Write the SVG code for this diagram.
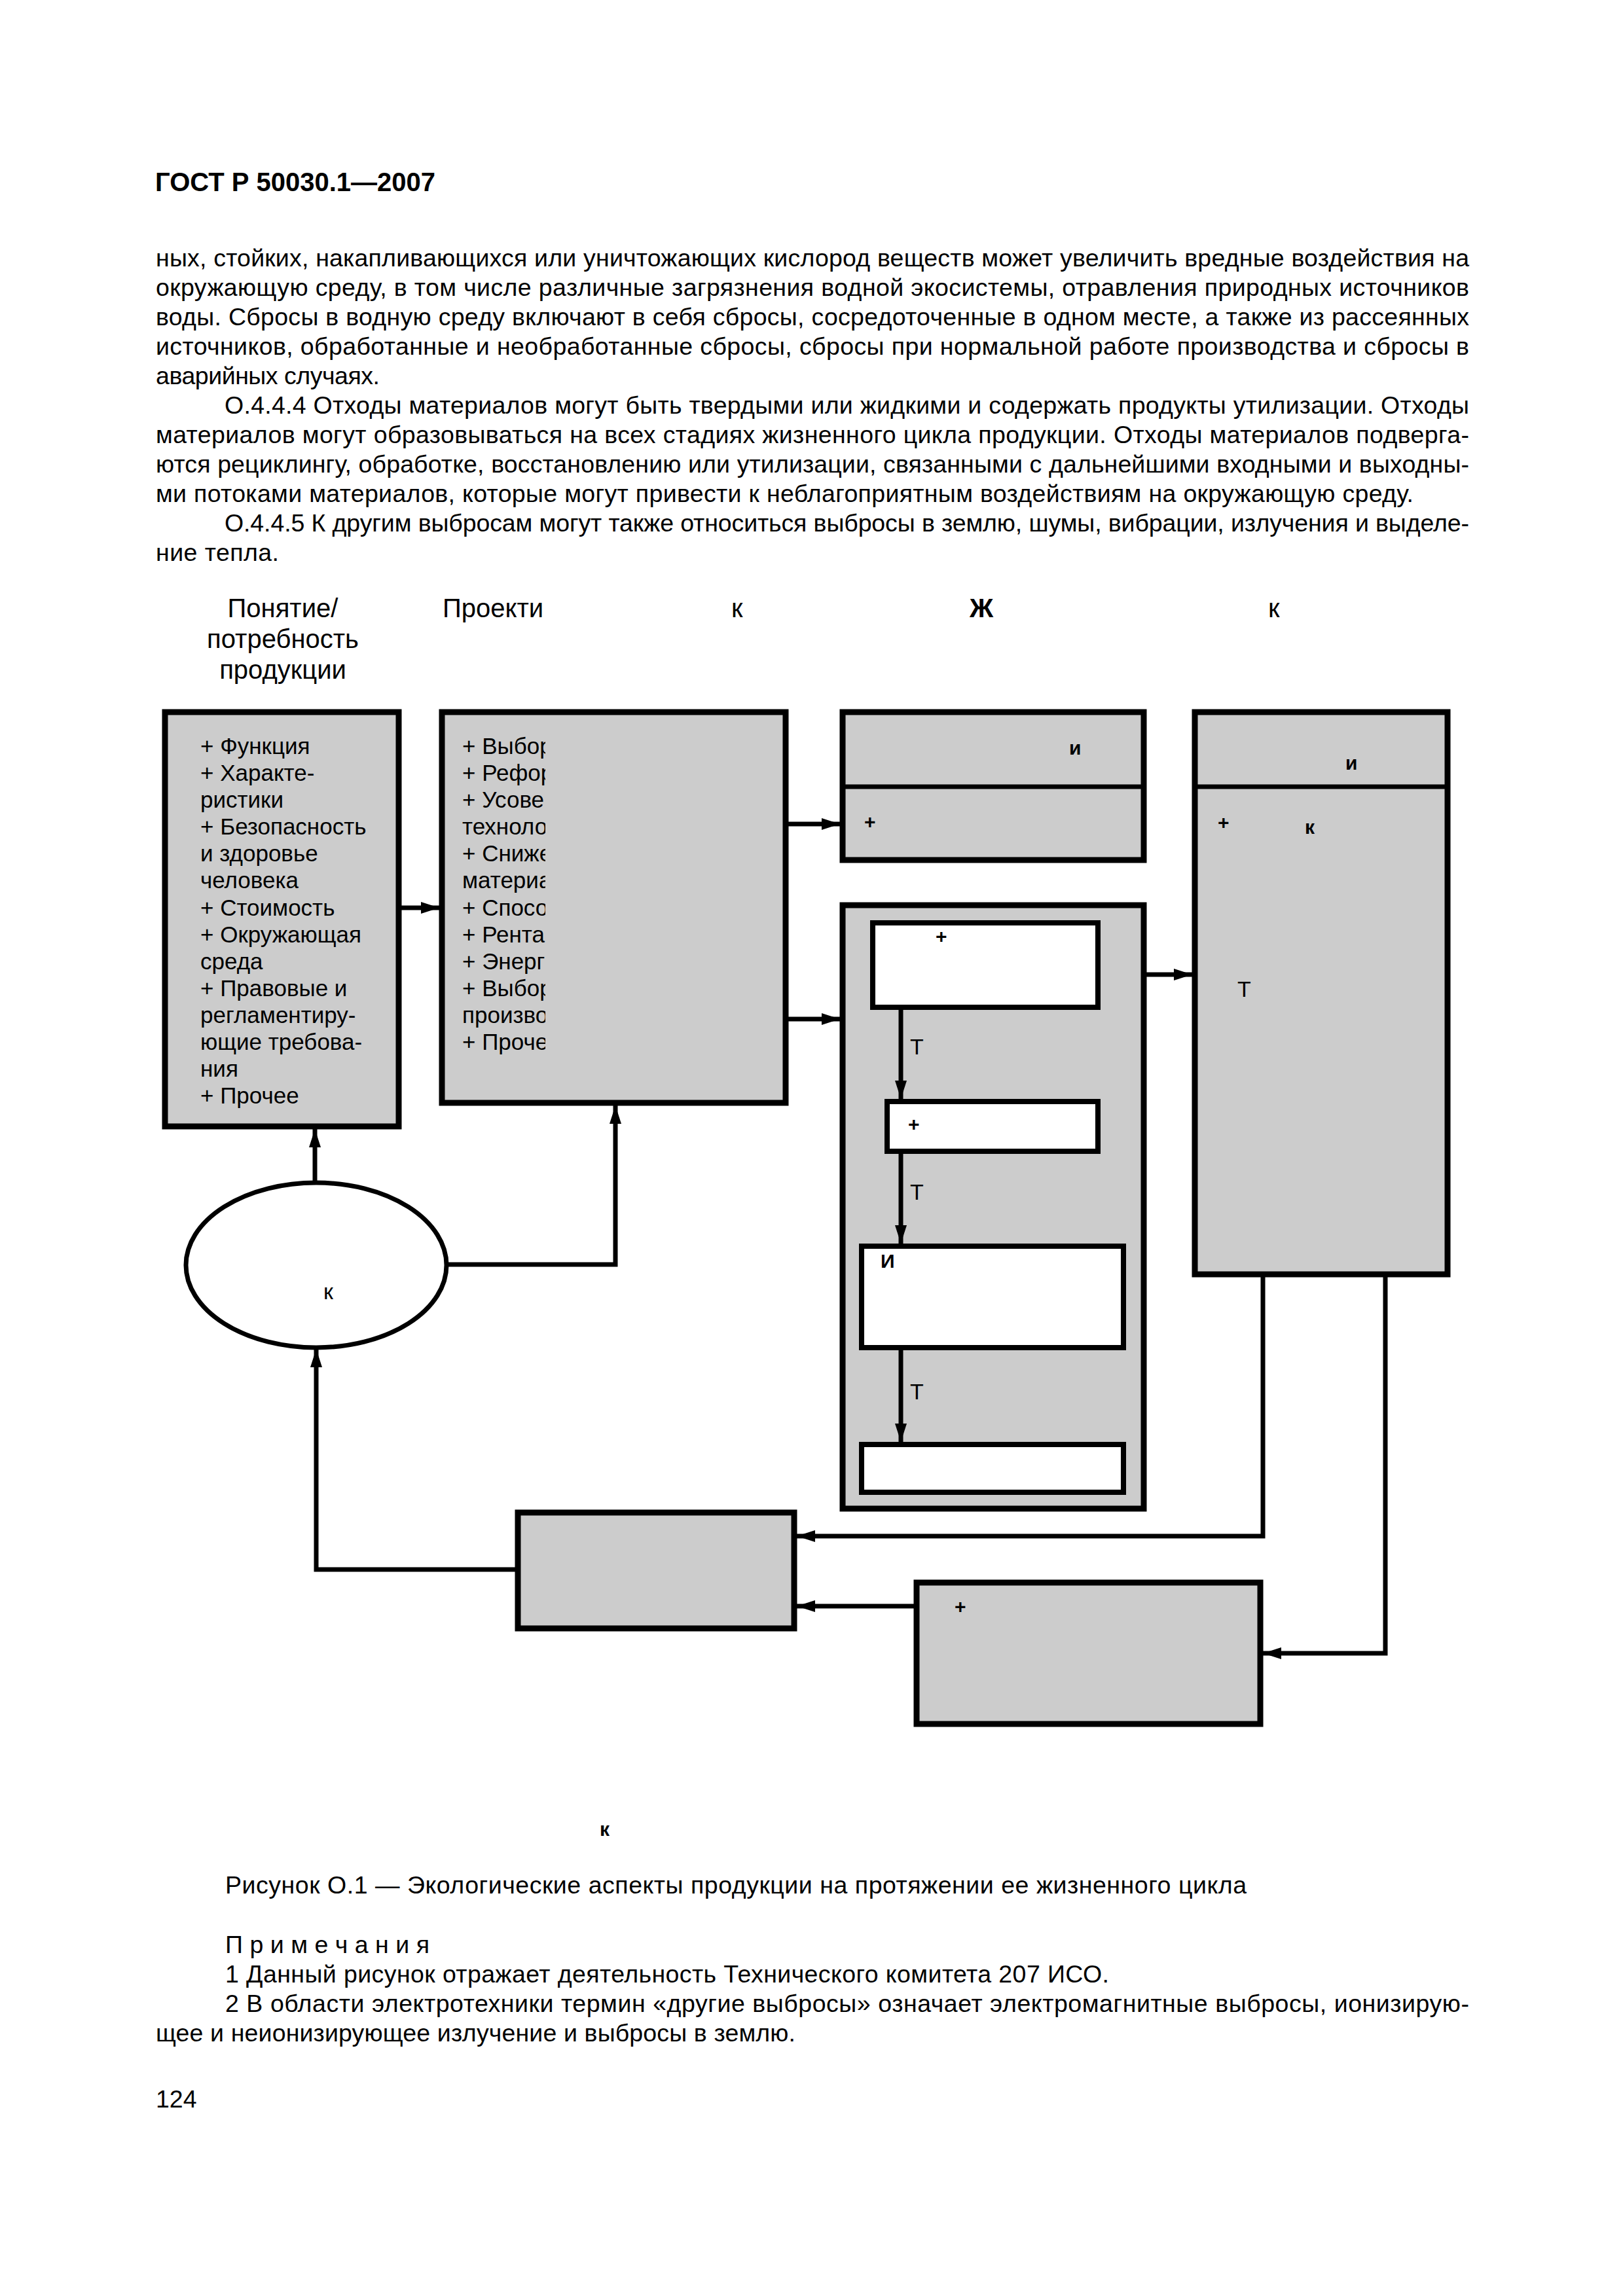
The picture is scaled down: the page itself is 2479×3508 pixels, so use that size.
<svg xmlns="http://www.w3.org/2000/svg" width="2479" height="3508" viewBox="0 0 2479 3508">
<style>
text{font-family:"Liberation Sans",Arial,sans-serif;fill:#000}
.hdr{font-size:40px;font-weight:bold}
.body{font-size:37.5px}
.head{font-size:40px}
.bt{font-size:35px}
.sm{font-size:30px;font-weight:bold}
.tl{font-size:34px}
.box{fill:#cccccc;stroke:#000;stroke-width:9}
.wbox{fill:#fff;stroke:#000;stroke-width:8}
.div{stroke:#000;stroke-width:7;fill:none}
.con{fill:none;stroke:#000;stroke-width:7}
</style>
<defs>
<marker id="ah" markerUnits="userSpaceOnUse" markerWidth="30" markerHeight="20" refX="28" refY="9" orient="auto">
<path d="M0,0 L28,9 L0,18 Z" fill="#000"/>
</marker>
<clipPath id="clip2"><rect x="700" y="1100" width="133" height="560"/></clipPath>
</defs>
<rect width="2479" height="3508" fill="#fff"/>

<g id="page-text">
<text class="hdr" x="237" y="292">ГОСТ Р 50030.1—2007</text>
<text class="body" x="238" y="407" textLength="2006" lengthAdjust="spacing">ных, стойких, накапливающихся или уничтожающих кислород веществ может увеличить вредные воздействия на</text>
<text class="body" x="238" y="452" textLength="2006" lengthAdjust="spacing">окружающую среду, в том числе  различные загрязнения водной экосистемы,  отравления природных источников</text>
<text class="body" x="238" y="497" textLength="2006" lengthAdjust="spacing">воды. Сбросы в водную среду включают в себя сбросы, сосредоточенные в одном месте, а также из рассеянных</text>
<text class="body" x="238" y="542" textLength="2006" lengthAdjust="spacing">источников, обработанные и необработанные сбросы, сбросы при нормальной работе производства и сбросы в</text>
<text class="body" x="238" y="587" textLength="342" lengthAdjust="spacing">аварийных случаях.</text>
<text class="body" x="343" y="632" textLength="1901" lengthAdjust="spacing">О.4.4.4  Отходы материалов могут быть твердыми или жидкими и содержать продукты утилизации. Отходы</text>
<text class="body" x="238" y="677" textLength="2006" lengthAdjust="spacing">материалов могут образовываться на всех стадиях жизненного цикла продукции. Отходы материалов подверга-</text>
<text class="body" x="238" y="722" textLength="2006" lengthAdjust="spacing">ются  рециклингу, обработке, восстановлению или утилизации, связанными с дальнейшими входными и выходны-</text>
<text class="body" x="238" y="767" textLength="1921" lengthAdjust="spacing">ми потоками материалов, которые могут привести к неблагоприятным воздействиям на окружающую среду.</text>
<text class="body" x="343" y="812" textLength="1901" lengthAdjust="spacing">О.4.4.5 К другим выбросам могут также относиться выбросы в землю, шумы, вибрации, излучения и выделе-</text>
<text class="body" x="238" y="857" textLength="188" lengthAdjust="spacing">ние тепла.</text>

<text class="sm" x="916" y="2805">к</text>
<text class="body" x="344" y="2893" textLength="1560" lengthAdjust="spacing">Рисунок О.1 — Экологические аспекты продукции на протяжении ее жизненного цикла</text>
<text class="body" x="344" y="2984" textLength="312" lengthAdjust="spacing">П р и м е ч а н и я</text>
<text class="body" x="344" y="3029" textLength="1350" lengthAdjust="spacing">1 Данный рисунок отражает деятельность Технического комитета 207 ИСО.</text>
<text class="body" x="344" y="3074" textLength="1900" lengthAdjust="spacing">2 В области электротехники термин  «другие выбросы» означает  электромагнитные выбросы, ионизирую-</text>
<text class="body" x="238" y="3119" textLength="977" lengthAdjust="spacing">щее и неионизирующее излучение и выбросы в землю.</text>
<text class="body" x="238" y="3220">124</text>
</g>

<g id="headings">
<text class="head" x="432" y="943" text-anchor="middle">Понятие/</text>
<text class="head" x="432" y="990" text-anchor="middle">потребность</text>
<text class="head" x="432" y="1037" text-anchor="middle">продукции</text>
<text class="head" x="676" y="943">Проекти</text>
<text class="head" x="1117" y="943">к</text>
<text class="head" x="1481" y="943" font-weight="bold">Ж</text>
<text class="head" x="1937" y="943">к</text>
</g>

<g id="node-concept">
<rect class="box" x="252" y="1088" width="357" height="633"/>
<text class="bt" x="306" y="1152">+ Функция</text>
<text class="bt" x="306" y="1193">+ Характе-</text>
<text class="bt" x="306" y="1234">ристики</text>
<text class="bt" x="306" y="1275">+ Безопасность</text>
<text class="bt" x="306" y="1316">и здоровье</text>
<text class="bt" x="306" y="1357">человека</text>
<text class="bt" x="306" y="1399">+ Стоимость</text>
<text class="bt" x="306" y="1440">+ Окружающая</text>
<text class="bt" x="306" y="1481">среда</text>
<text class="bt" x="306" y="1522">+ Правовые и</text>
<text class="bt" x="306" y="1563">регламентиру-</text>
<text class="bt" x="306" y="1604">ющие требова-</text>
<text class="bt" x="306" y="1645">ния</text>
<text class="bt" x="306" y="1686">+ Прочее</text>
</g>

<g id="node-design">
<rect class="box" x="675" y="1088" width="525" height="597"/>
<g clip-path="url(#clip2)">
<text class="bt" x="706" y="1152">+ Выбор</text>
<text class="bt" x="706" y="1193">+ Рефор</text>
<text class="bt" x="706" y="1234">+ Усове</text>
<text class="bt" x="706" y="1275">техноло</text>
<text class="bt" x="706" y="1316">+ Сниже</text>
<text class="bt" x="706" y="1357">материа</text>
<text class="bt" x="706" y="1399">+ Спосо</text>
<text class="bt" x="706" y="1440">+ Рента</text>
<text class="bt" x="706" y="1481">+ Энерг</text>
<text class="bt" x="706" y="1522">+ Выбор</text>
<text class="bt" x="706" y="1563">произво</text>
<text class="bt" x="706" y="1604">+ Проче</text>
</g>
</g>

<g id="node-supply">
<rect class="box" x="1287" y="1088" width="460" height="226"/>
<line class="div" x1="1287" y1="1202" x2="1747" y2="1202"/>
<text class="sm" x="1633" y="1153">и</text>
<text class="sm" x="1320" y="1266">+</text>
</g>

<g id="node-production">
<rect class="box" x="1287" y="1383" width="460" height="922"/>
</g>
<g id="node-w1">
<rect class="wbox" x="1333" y="1410" width="344" height="129"/>
<text class="sm" x="1429" y="1441">+</text>
</g>
<g id="node-w2">
<rect class="wbox" x="1355" y="1683" width="322" height="76"/>
<text class="sm" x="1387" y="1728">+</text>
</g>
<g id="node-w3">
<rect class="wbox" x="1316" y="1904" width="400" height="155"/>
<text class="sm" x="1345" y="1937">И</text>
</g>
<g id="node-w4">
<rect class="wbox" x="1316" y="2207" width="400" height="73"/>
</g>

<g id="node-use">
<rect class="box" x="1825" y="1088" width="386" height="859"/>
<line class="div" x1="1825" y1="1202" x2="2211" y2="1202"/>
<text class="sm" x="2055" y="1176">и</text>
<text class="sm" x="1860" y="1267">+</text>
<text class="sm" x="1993" y="1274">к</text>
<text class="tl" x="1890" y="1523">Т</text>
</g>

<g id="node-ellipse">
<ellipse cx="483" cy="1933" rx="199" ry="126" fill="#fff" stroke="#000" stroke-width="7"/>
<text class="tl" x="494" y="1985" font-size="29">к</text>
</g>

<g id="node-end">
<rect class="box" x="791" y="2311" width="422" height="177"/>
</g>

<g id="node-other">
<rect class="box" x="1400" y="2418" width="525" height="216"/>
<text class="sm" x="1458" y="2465">+</text>
</g>

<g id="connectors">
<path class="con" d="M613,1387 H671" marker-end="url(#ah)"/>
<path class="con" d="M1204,1259 H1283" marker-end="url(#ah)"/>
<path class="con" d="M1204,1557 H1283" marker-end="url(#ah)"/>
<path class="con" d="M1751,1489 H1821" marker-end="url(#ah)"/>
<path class="con" d="M1376,1543 V1679" marker-end="url(#ah)"/>
<path class="con" d="M1376,1763 V1900" marker-end="url(#ah)"/>
<path class="con" d="M1376,2063 V2203" marker-end="url(#ah)"/>
<path class="con" d="M1929,1951 V2347 H1217" marker-end="url(#ah)"/>
<path class="con" d="M2116,1951 V2526 H1929" marker-end="url(#ah)"/>
<path class="con" d="M1396,2454 H1217" marker-end="url(#ah)"/>
<path class="con" d="M787,2398 H483 V2061" marker-end="url(#ah)"/>
<path class="con" d="M481,1806 V1725" marker-end="url(#ah)"/>
<path class="con" d="M684,1932 H940 V1689" marker-end="url(#ah)"/>
<text class="tl" x="1390" y="1611">Т</text>
<text class="tl" x="1390" y="1833">Т</text>
<text class="tl" x="1390" y="2138">Т</text>
</g>
</svg>
